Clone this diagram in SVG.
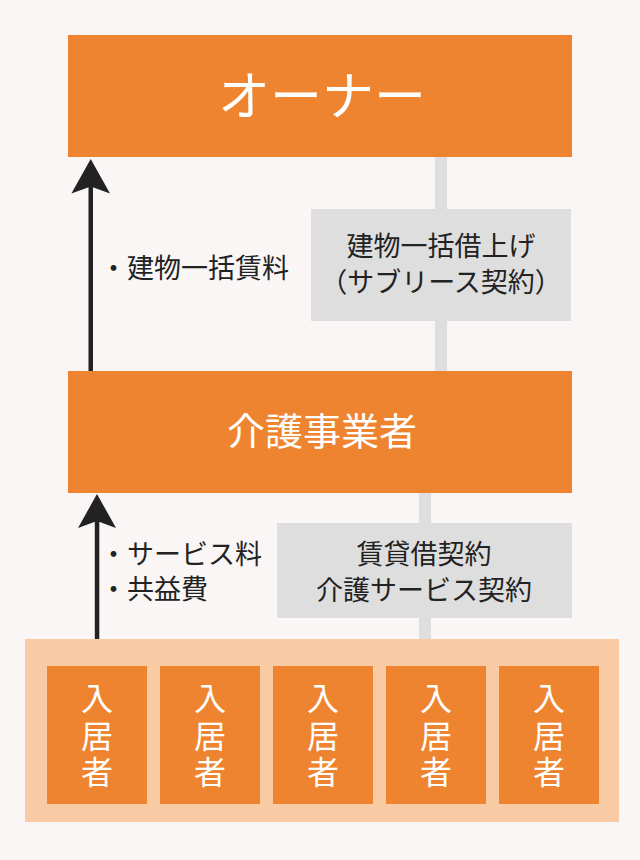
<svg xmlns="http://www.w3.org/2000/svg" width="640" height="860" viewBox="0 0 640 860">
<style>
.bg{fill:#f9f6f5}
.org{fill:#ef8430}
.lite{fill:#f8cba4}
.gray{fill:#dedede}
.t{font-family:"Noto Sans CJK JP","Noto Sans",sans-serif}
.w{fill:#ffffff;text-anchor:middle}
.d{fill:#222222}
.c{text-anchor:middle}
.arrow{fill:#222222}
</style>
<rect class="bg" x="0" y="0" width="640" height="860"/>
<g id="connectors">
  <rect class="gray" x="435" y="150" width="12" height="225"/>
  <rect class="gray" x="419" y="485" width="12" height="160"/>
  <rect class="arrow" x="88.5" y="180" width="4.5" height="193"/>
  <path class="arrow" d="M90.7,159 L110,193.5 L90.7,186.5 L71.4,193.5 Z"/>
  <rect class="arrow" x="94.8" y="515" width="4.5" height="126"/>
  <path class="arrow" d="M97,494 L116,528 L97,521 L78,528 Z"/>
</g>
<g id="owner">
  <rect class="org" x="68" y="35" width="504" height="122"/>
  <text class="t w" x="322" y="115" font-size="52">オーナー</text>
</g>
<g id="label-rent">
  <text class="t d" x="100" y="278" font-size="27">・建物一括賃料</text>
</g>
<g id="contract-sublease">
  <rect class="gray" x="311" y="209" width="260" height="112"/>
  <text class="t d c" x="441" y="256" font-size="27">建物一括借上げ</text>
  <text class="t d c" x="441" y="292" font-size="27">（サブリース契約）</text>
</g>
<g id="operator">
  <rect class="org" x="68" y="371" width="504" height="122"/>
  <text class="t w" x="322" y="445" font-size="38">介護事業者</text>
</g>
<g id="label-fees">
  <text class="t d" x="100" y="564" font-size="27">・サービス料</text>
  <text class="t d" x="100" y="599" font-size="27">・共益費</text>
</g>
<g id="contract-care">
  <rect class="gray" x="277" y="523" width="295" height="95"/>
  <text class="t d c" x="424" y="564" font-size="27">賃貸借契約</text>
  <text class="t d c" x="424" y="600" font-size="27">介護サービス契約</text>
</g>
<g id="residents">
  <rect class="lite" x="25" y="639" width="594" height="183"/>
  <g id="resident1">
    <rect class="org" x="47" y="666" width="100" height="138"/>
    <text class="t w" font-size="32"><tspan x="97" y="710">入</tspan><tspan x="97" y="748">居</tspan><tspan x="97" y="784">者</tspan></text>
  </g>
  <g id="resident2">
    <rect class="org" x="160" y="666" width="100" height="138"/>
    <text class="t w" font-size="32"><tspan x="210" y="710">入</tspan><tspan x="210" y="748">居</tspan><tspan x="210" y="784">者</tspan></text>
  </g>
  <g id="resident3">
    <rect class="org" x="273" y="666" width="100" height="138"/>
    <text class="t w" font-size="32"><tspan x="323" y="710">入</tspan><tspan x="323" y="748">居</tspan><tspan x="323" y="784">者</tspan></text>
  </g>
  <g id="resident4">
    <rect class="org" x="386" y="666" width="100" height="138"/>
    <text class="t w" font-size="32"><tspan x="436" y="710">入</tspan><tspan x="436" y="748">居</tspan><tspan x="436" y="784">者</tspan></text>
  </g>
  <g id="resident5">
    <rect class="org" x="499" y="666" width="100" height="138"/>
    <text class="t w" font-size="32"><tspan x="549" y="710">入</tspan><tspan x="549" y="748">居</tspan><tspan x="549" y="784">者</tspan></text>
  </g>
</g>
</svg>
